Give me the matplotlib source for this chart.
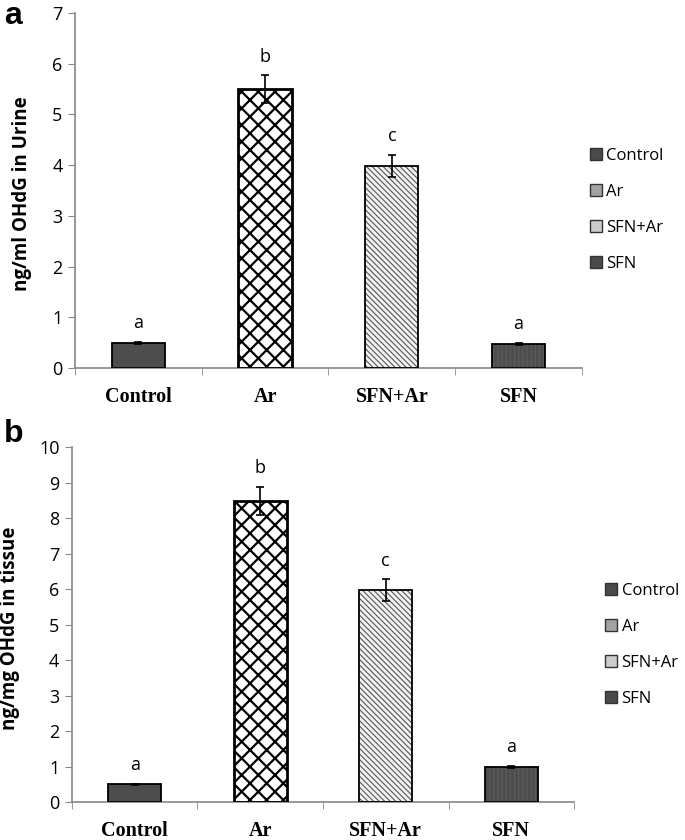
import numpy as np
import matplotlib
matplotlib.use('Agg')
import matplotlib.pyplot as plt
from matplotlib.patches import Patch

# data
groups = ['Control', 'Ar', 'SFN+Ar', 'SFN']
urine_mean = [0.5, 5.5, 3.98, 0.48]
urine_err = [0.02, 0.27, 0.22, 0.02]
tissue_mean = [0.5, 8.48, 5.97, 0.99]
tissue_err = [0.02, 0.4, 0.3, 0.03]
letters = ['a', 'b', 'c', 'a']

fills = ['#4d4d4d', 'white', '#f2f2f2', '#4d4d4d']
hatches = [None, 'xx', '\\' * 6, '||||']
hatch_cols = ['#4d4d4d', 'black', '#555555', '#5e5e5e']
hatch_lws = [1.0, 1.6, 0.8, 0.8]
legend_cols = ['#4a4a4a', '#a3a3a3', '#cccccc', '#4a4a4a']

plt.rcParams['font.family'] = ['Open Sans', 'DejaVu Sans']

fig = plt.figure(figsize=(6.85, 8.4), dpi=100)
ax_a = fig.add_axes([0.1095, 0.5619, 0.740, 0.4226])
ax_b = fig.add_axes([0.105, 0.0452, 0.733, 0.4226])


def draw_panel(ax, means, errs, ymax, ylabel, ylab_x, leg_anchor):
    x = np.arange(len(groups))
    w = 0.42
    for i in range(len(groups)):
        with plt.rc_context({'hatch.linewidth': hatch_lws[i]}):
            ax.bar(x[i], means[i], w, color=fills[i], hatch=hatches[i],
                   edgecolor=hatch_cols[i], linewidth=0, zorder=2)
        ax.bar(x[i], means[i], w, fill=False, edgecolor='black',
               linewidth=2.0 if i == 1 else 1.3, zorder=3)
    ax.errorbar(x, means, yerr=errs, fmt='none', ecolor='black',
                elinewidth=1.2, capsize=3, capthick=1.2, zorder=4)
    for i in range(len(groups)):
        ax.annotate(letters[i], (x[i], means[i] + errs[i]),
                    xytext=(0, 7), textcoords='offset points',
                    ha='center', va='bottom', fontsize=13)

    ax.set_xlim(-0.5, len(groups) - 0.5)
    ax.set_ylim(0, ymax)
    ax.set_yticks(range(0, ymax + 1))
    ax.set_xticks(x)
    ax.set_xticklabels(groups, fontfamily='Liberation Serif',
                       fontweight='bold', fontsize=14.5)
    ax.set_xticks(np.arange(-0.5, len(groups)), minor=True)
    ax.tick_params(axis='x', which='major', length=0, pad=14)
    ax.tick_params(axis='x', which='minor', length=5, color='#888888',
                   direction='out')
    ax.tick_params(axis='y', length=5, color='#888888', labelsize=13,
                   pad=4)
    for s in ['top', 'right']:
        ax.spines[s].set_visible(False)
    for s in ['left', 'bottom']:
        ax.spines[s].set_color('#888888')
        ax.spines[s].set_linewidth(1.2)
    ax.set_ylabel(ylabel, fontweight='bold', fontsize=13.5)
    ax.yaxis.set_label_coords(ylab_x, 0.49)

    handles = [Patch(facecolor=legend_cols[i], edgecolor='#333333',
                     linewidth=1.0) for i in range(len(groups))]
    ax.legend(handles, groups, loc='upper left', bbox_to_anchor=leg_anchor,
              bbox_transform=fig.transFigure, frameon=False, fontsize=12,
              handlelength=0.75, handleheight=0.75, handletextpad=0.25,
              labelspacing=1.2, borderpad=0, borderaxespad=0)


draw_panel(ax_a, urine_mean, urine_err, 7, 'ng/ml OHdG in Urine', -0.085,
           (0.861, 1 - 148 / 840))
draw_panel(ax_b, tissue_mean, tissue_err, 10, 'ng/mg OHdG in tissue', -0.104,
           (0.883, 1 - 583 / 840))

fig.text(0.006, 0.999, 'a', fontsize=23, fontweight='bold', va='top',
         fontfamily='Liberation Sans')
fig.text(0.006, 1 - 419 / 840, 'b', fontsize=23, fontweight='bold', va='top',
         fontfamily='Liberation Sans')

fig.savefig('out.png', dpi=100)
